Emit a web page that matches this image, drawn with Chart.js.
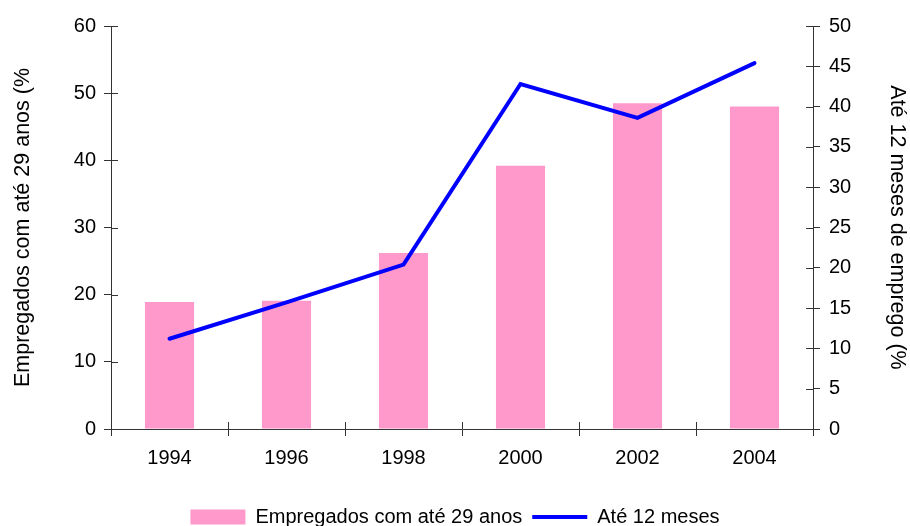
<!DOCTYPE html>
<html>
<head>
<meta charset="utf-8">
<script src="https://cdn.jsdelivr.net/npm/chart.js@4/dist/chart.umd.min.js"></script>
<style>
  html, body { margin: 0; padding: 0; background: #fff; }
  #wrap { width: 910px; height: 526px; }
</style>
</head>
<body>
<div id="wrap"><canvas id="c" width="910" height="526"></canvas></div>
<script>
// Survey years on the category axis
const years = ['1994', '1996', '1998', '2000', '2002', '2004'];
// Share of employees aged up to 29 (left axis, %)
const youngShare = [18.9, 19.1, 26.2, 39.2, 48.5, 48.0];
// Share with up to 12 months in the job (right axis, %)
const shortTenure = [11.2, 15.7, 20.4, 42.8, 38.6, 45.4];

const barLabel = 'Empregados com até 29 anos';
const lineLabel = 'Até 12 meses';
const leftTitle = 'Empregados com até 29 anos (%';
const rightTitle = 'Até 12 meses de emprego (%';

const AXIS = '#333333';
const TICK = 7;
const FAMILY = '"Liberation Sans", Arial, sans-serif';
const FONT = { family: FAMILY, size: 20 };
const TITLE_FONT = { family: FAMILY, size: 21.5 };

Chart.defaults.font.family = FAMILY;
Chart.defaults.color = '#000';

// Tick marks that cross each axis line: Chart.js draws the outer half,
// this draws the half that points into the plot area.
const innerTicks = {
  id: 'innerTicks',
  afterDraw(chart) {
    const { ctx, chartArea: a, scales } = chart;
    ctx.save();
    ctx.strokeStyle = AXIS;
    ctx.lineWidth = 1;
    ctx.beginPath();
    scales.y.ticks.forEach((t, i) => {
      const py = Math.round(scales.y.getPixelForTick(i)) + 0.5;
      ctx.moveTo(a.left, py); ctx.lineTo(a.left + TICK, py);
    });
    scales.y1.ticks.forEach((t, i) => {
      const py = Math.round(scales.y1.getPixelForTick(i)) + 0.5;
      ctx.moveTo(a.right - TICK, py); ctx.lineTo(a.right, py);
    });
    const x = scales.x;
    const n = x.ticks.length;
    const step = n > 1 ? x.getPixelForTick(1) - x.getPixelForTick(0) : x.width;
    for (let i = 0; i <= n; i++) {
      const px = Math.round(x.getPixelForTick(0) - step / 2 + i * step) + 0.5;
      ctx.moveTo(px, a.bottom); ctx.lineTo(px, a.bottom - TICK);
    }
    ctx.stroke();
    ctx.restore();
  }
};

new Chart(document.getElementById('c'), {
  data: {
    labels: years,
    datasets: [
      {
        type: 'line',
        label: lineLabel,
        data: shortTenure,
        yAxisID: 'y1',
        borderColor: '#0000FF',
        backgroundColor: '#0000FF',
        borderWidth: 4,
        borderCapStyle: 'round',
        pointRadius: 0,
        pointHoverRadius: 0,
        tension: 0,
        pointStyle: 'line',
        order: 0
      },
      {
        type: 'bar',
        label: barLabel,
        data: youngShare,
        yAxisID: 'y',
        backgroundColor: '#FF99CC',
        borderWidth: 0,
        categoryPercentage: 1,
        barPercentage: 0.42,
        pointStyle: 'rect',
        order: 1
      }
    ]
  },
  options: {
    responsive: false,
    animation: false,
    layout: { padding: { top: 26, left: 0, right: 0, bottom: -11 } },
    plugins: {
      tooltip: { enabled: false },
      legend: {
        position: 'bottom',
        reverse: true,
        labels: {
          usePointStyle: true,
          pointStyleWidth: 55,
          boxHeight: 15,
          padding: 10,
          color: '#000',
          font: FONT
        }
      }
    },
    scales: {
      x: {
        type: 'category',
        offset: true,
        grid: { display: true, offset: true, drawOnChartArea: false, tickLength: TICK, color: AXIS },
        border: { display: true, color: AXIS, width: 1 },
        ticks: { color: '#000', font: FONT, padding: 10, maxRotation: 0 },
        afterFit(s) { s.height = 68; }
      },
      y: {
        position: 'left',
        min: 0, max: 60,
        ticks: { stepSize: 10, color: '#000', font: FONT, padding: 8 },
        grid: { drawOnChartArea: false, tickLength: TICK, color: AXIS },
        border: { display: true, color: AXIS, width: 1 },
        title: { display: true, text: leftTitle, color: '#000', font: TITLE_FONT, padding: { top: 10, bottom: 0 } },
        afterFit(s) { s.width = 111; }
      },
      y1: {
        position: 'right',
        min: 0, max: 50,
        ticks: { stepSize: 5, color: '#000', font: FONT, padding: 9 },
        grid: { drawOnChartArea: false, tickLength: TICK, color: AXIS },
        border: { display: true, color: AXIS, width: 1 },
        title: { display: true, text: rightTitle, color: '#000', font: TITLE_FONT, padding: { top: 0, bottom: 0 } },
        afterFit(s) { s.width = 97; }
      }
    }
  },
  plugins: [innerTicks]
});
</script>
</body>
</html>
